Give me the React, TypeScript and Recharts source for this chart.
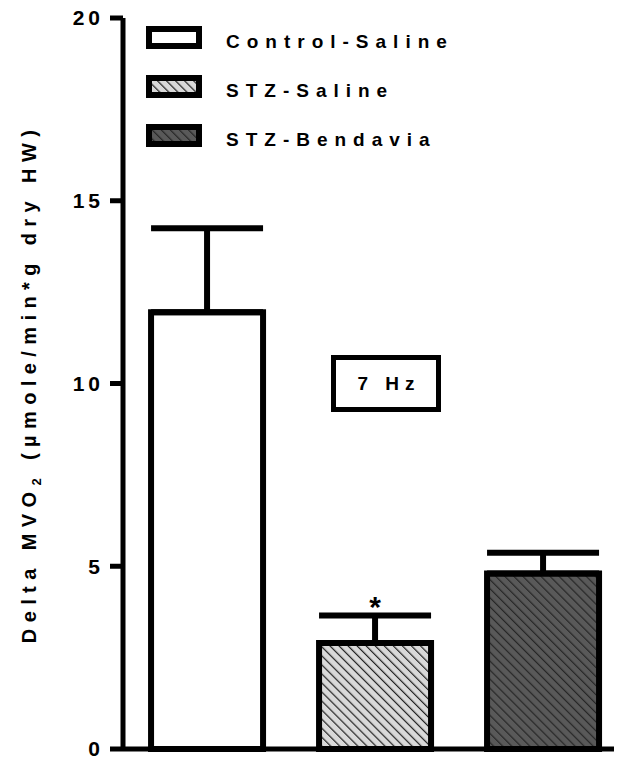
import { ComposedChart, Bar, Cell, ErrorBar, XAxis, YAxis, Scatter, Legend, Label } from "recharts";

// groups and values (mean + upper SEM)
const groups = ["Control-Saline", "STZ-Saline", "STZ-Bendavia"];
const means = [11.95, 2.9, 4.8];
const sems = [2.3, 0.75, 0.57];
const marks = ["", "*", ""];
const yTicks = [0, 5, 10, 15, 20];
const fills = ["#ffffff", "url(#hatchLight)", "url(#hatchDark)"];

const FONT = "'Liberation Sans', Arial, Helvetica, sans-serif";

const data = groups.map((g, i) => ({
  group: g,
  mean: means[i],
  err: [0, sems[i]],
  star: marks[i] ? means[i] + sems[i] : null,
  mark: marks[i],
}));

function StarShape(props: any) {
  const { cx, cy, payload } = props;
  if (!payload?.mark || !Number.isFinite(cy)) return <g />;
  return (
    <text x={cx} y={cy + 1} textAnchor="middle" fontSize={30} fontWeight="bold" fontFamily={FONT} fill="#000">
      {payload.mark}
    </text>
  );
}

function LegendBox() {
  return (
    <svg width={330} height={140}>
      {groups.map((g, i) => (
        <g key={g}>
          <rect x={3} y={4 + i * 49} width={50} height={17} fill={fills[i]} stroke="#000" strokeWidth={6} />
          <text x={80} y={23 + i * 49} fontSize={19} fontWeight="bold" fontFamily={FONT} letterSpacing={7} fill="#000">
            {g}
          </text>
        </g>
      ))}
    </svg>
  );
}

function YTitle(props: any) {
  const { viewBox } = props;
  const cx = 36;
  const cy = viewBox.y + viewBox.height / 2;
  return (
    <text
      x={cx}
      y={cy}
      transform={`rotate(-90 ${cx} ${cy})`}
      textAnchor="middle"
      fontSize={20}
      fontWeight="bold"
      fontFamily={FONT}
      letterSpacing={6.4}
      fill="#000"
    >
      Delta MVO
      <tspan fontSize={13} dy={5}>2</tspan>
      <tspan dy={-5}> (µmole/min*g dry HW)</tspan>
    </text>
  );
}

export default function App() {
  // the wrapper cancels the body's 8px margin so the chart uses the whole page
  return (
    <div style={{ position: "relative", width: 622, height: 765, margin: "-8px 0 -8px -8px", overflow: "hidden", background: "#fff" }}>
      <ComposedChart
        width={627}
        height={765}
        data={data}
        margin={{ top: 18, right: 0, bottom: 0, left: 8 }}
        barCategoryGap="16.7%"
      >
        <defs>
          <pattern id="hatchLight" patternUnits="userSpaceOnUse" width={6.4} height={10} patternTransform="rotate(-45)">
            <rect width={6.4} height={10} fill="#d9d9d9" />
            <line x1={0} y1={0} x2={0} y2={10} stroke="#222" strokeWidth={2.4} />
          </pattern>
          <pattern id="hatchDark" patternUnits="userSpaceOnUse" width={6.4} height={10} patternTransform="rotate(-45)">
            <rect width={6.4} height={10} fill="#595959" />
            <line x1={0} y1={0} x2={0} y2={10} stroke="#262626" strokeWidth={2.4} />
          </pattern>
        </defs>
        <XAxis
          dataKey="group"
          height={16}
          tick={false}
          tickLine={false}
          axisLine={{ stroke: "#000", strokeWidth: 5 }}
        />
        <YAxis
          width={115}
          domain={[0, 20]}
          ticks={yTicks}
          interval={0}
          tickSize={13}
          tickMargin={6}
          tickLine={{ stroke: "#000", strokeWidth: 5 }}
          axisLine={{ stroke: "#000", strokeWidth: 5 }}
          tick={{ fill: "#000", fontSize: 21, fontWeight: "bold", fontFamily: FONT, letterSpacing: 4 }}
        >
          <Label content={<YTitle />} />
        </YAxis>
        <Legend
          layout="vertical"
          align="center"
          verticalAlign="middle"
          content={<LegendBox />}
          wrapperStyle={{ left: 146, top: 25, width: 330, height: 140 }}
        />
        <Bar dataKey="mean" stroke="#000" strokeWidth={6} isAnimationActive={false}>
          {data.map((d, i) => (
            <Cell key={d.group} fill={fills[i]} />
          ))}
          <ErrorBar dataKey="err" direction="y" width={56} stroke="#000" strokeWidth={6} />
        </Bar>
        <Scatter dataKey="star" shape={<StarShape />} isAnimationActive={false} legendType="none" />
      </ComposedChart>
      <div
        style={{
          position: "absolute",
          left: 331,
          top: 355,
          width: 110,
          height: 57,
          boxSizing: "border-box",
          border: "5px solid #000",
          display: "flex",
          alignItems: "center",
          justifyContent: "center",
          fontFamily: FONT,
          fontWeight: "bold",
          fontSize: 19,
          letterSpacing: 6,
          paddingLeft: 6,
          background: "#fff",
        }}
      >
        7 Hz
      </div>
    </div>
  );
}
